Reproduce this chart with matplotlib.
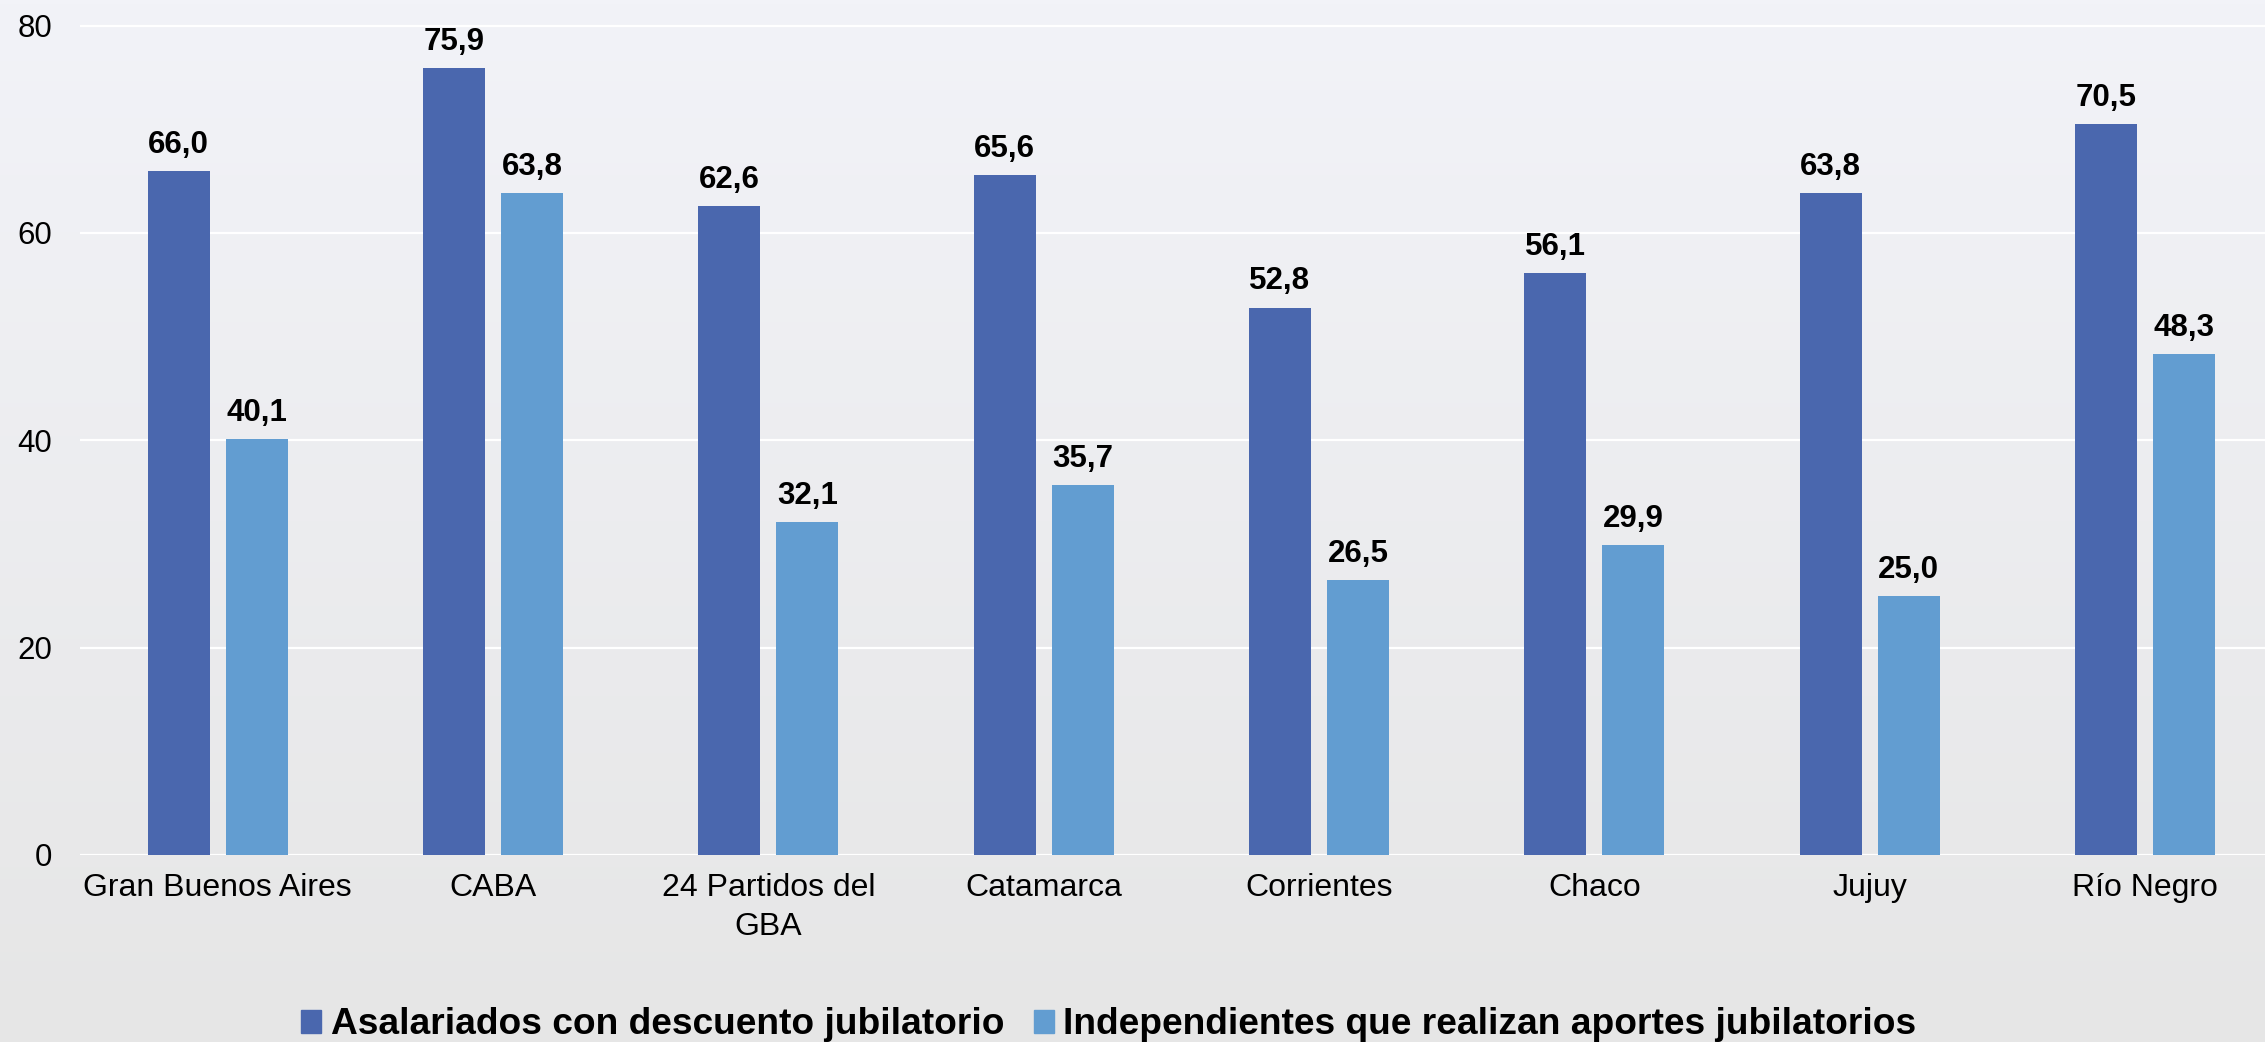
import numpy as np
import matplotlib
matplotlib.use("Agg")
import matplotlib.pyplot as plt
from matplotlib.patches import Patch

categories = ["Gran Buenos Aires", "CABA", "24 Partidos del\nGBA", "Catamarca",
              "Corrientes", "Chaco", "Jujuy", "Río Negro"]
asalariados = [66.0, 75.9, 62.6, 65.6, 52.8, 56.1, 63.8, 70.5]
independientes = [40.1, 63.8, 32.1, 35.7, 26.5, 29.9, 25.0, 48.3]
series_names = ["Asalariados con descuento jubilatorio",
                "Independientes que realizan aportes jubilatorios"]
yticks = [0, 20, 40, 60, 80]

dark = "#4a67ae"
light = "#629dd1"

plt.rcParams["font.family"] = ["Liberation Sans", "DejaVu Sans"]

fig = plt.figure(figsize=(22.65, 10.42), dpi=100)

# background gradient, bluish light grey at top to plain grey at bottom
bg = fig.add_axes([0, 0, 1, 1], zorder=-10)
top_c = np.array([242, 243, 248]) / 255
bot_c = np.array([230, 230, 230]) / 255
t = np.linspace(0, 1, 256)[:, None, None]
grad = top_c * (1 - t) + bot_c * t
bg.imshow(np.repeat(grad, 2, axis=1), aspect="auto", extent=[0, 1, 0, 1])
bg.axis("off")

ax = fig.add_axes([80 / 2265, 1 - 855 / 1042, 1 - 80 / 2265, 855 / 1042])
ax.patch.set_alpha(0)

x = np.arange(len(categories))
w = 0.225
off = 0.1417
b1 = ax.bar(x - off, asalariados, w, color=dark, zorder=3)
b2 = ax.bar(x + off, independientes, w, color=light, zorder=3)

for bars, vals in ((b1, asalariados), (b2, independientes)):
    for rect, v in zip(bars, vals):
        ax.annotate(f"{v:.1f}".replace(".", ","),
                    (rect.get_x() + rect.get_width() / 2, v),
                    xytext=(0, 8), textcoords="offset points",
                    ha="center", va="bottom", fontsize=22.5, fontweight="bold")

ax.set_xlim(-0.5, 7.436)
ax.set_ylim(0, 82.46)
ax.set_yticks(yticks)
ax.set_yticklabels([str(v) for v in yticks], fontsize=22.5)
ax.set_xticks(x)
ax.set_xticklabels(categories, fontsize=23)
for lbl in ax.get_xticklabels():
    lbl.set_linespacing(1.4)
ax.tick_params(axis="y", length=0, pad=20)
ax.tick_params(axis="x", length=0, pad=13)
ax.grid(axis="y", color="white", linewidth=1.6, zorder=0)
ax.set_axisbelow(True)
for s in ax.spines.values():
    s.set_visible(False)

handles = [Patch(color=dark), Patch(color=light)]
fig.legend(handles, series_names, loc="center", bbox_to_anchor=(0.4895, 1 - 1025 / 1042),
           ncol=2, frameon=False, prop={"size": 26.7, "weight": "bold"},
           handlelength=0.55, handleheight=0.6, handletextpad=0.25, columnspacing=0.8)

fig.savefig("out.png", dpi=100)
